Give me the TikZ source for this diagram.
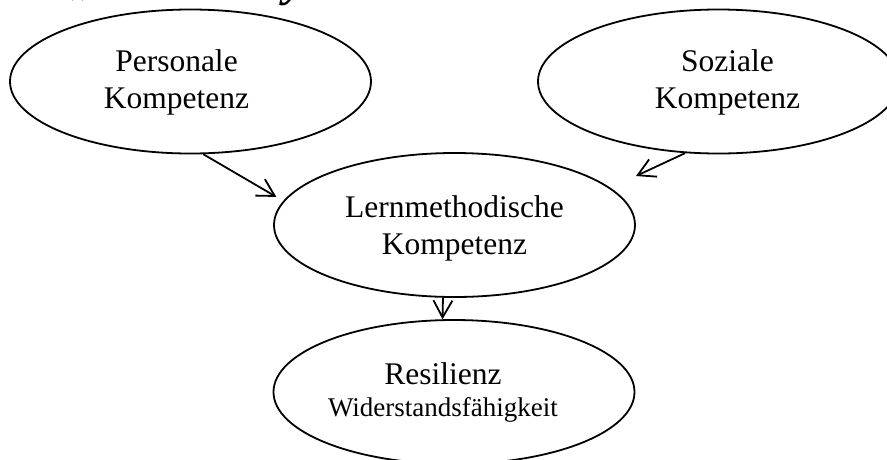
\documentclass[tikz,border=0pt]{standalone}
\usepackage{fontspec}
\setmainfont{Liberation Serif}
\usetikzlibrary{shapes.geometric,arrows.meta}

\begin{document}
\begin{tikzpicture}[x=1pt,y=-1pt,
	oval/.style={draw,ellipse,line width=1.8pt,minimum width=361pt,minimum height=144pt,inner sep=0pt},
	ovaltext/.style={align=center,inner sep=0pt,font=\fontsize{31.5}{37}\selectfont},
	arr/.style={line width=1.8pt,-{Straight Barb[length=17pt,width=19pt]}},
	titlefrag/.style={inner sep=0pt,anchor=base west,font=\fontsize{48}{56}\selectfont\bfseries\itshape}]
	\useasboundingbox (0,0) rectangle (887,459);
	\node[titlefrag] (tquote) at (72,-7) {„};
	\node[titlefrag] (tletter) at (284,-5) {y};
	\node[oval] (pers) at (190.5,81.5) {};
	\node[oval] (soz) at (718.5,81.5) {};
	\node[oval] (lern) at (454.5,225) {};
	\node[oval] (resil) at (454,392) {};
	\node[ovaltext] (pers-text) at ([xshift=-14pt,yshift=-1pt]pers) {Personale\\Kompetenz};
	\node[ovaltext] (soz-text) at ([xshift=9pt,yshift=-1pt]soz) {Soziale\\Kompetenz};
	\node[ovaltext] (lern-text) at ([yshift=-3pt]lern) {Lernmethodische\\Kompetenz};
	\node[ovaltext] (resil-text) at ([xshift=-11pt]resil) {Resilienz\\[-5pt]{\fontsize{27}{32}\selectfont Widerstandsfähigkeit}};
	\coordinate (soz-end) at (636,176);
	\draw[arr,shorten >=8pt] (pers.-80) -- (lern.172);
	\draw[arr] (soz.-115) -- (soz-end);
	\draw[arr] (lern.-99) -- (resil.99);
\end{tikzpicture}
\end{document}
